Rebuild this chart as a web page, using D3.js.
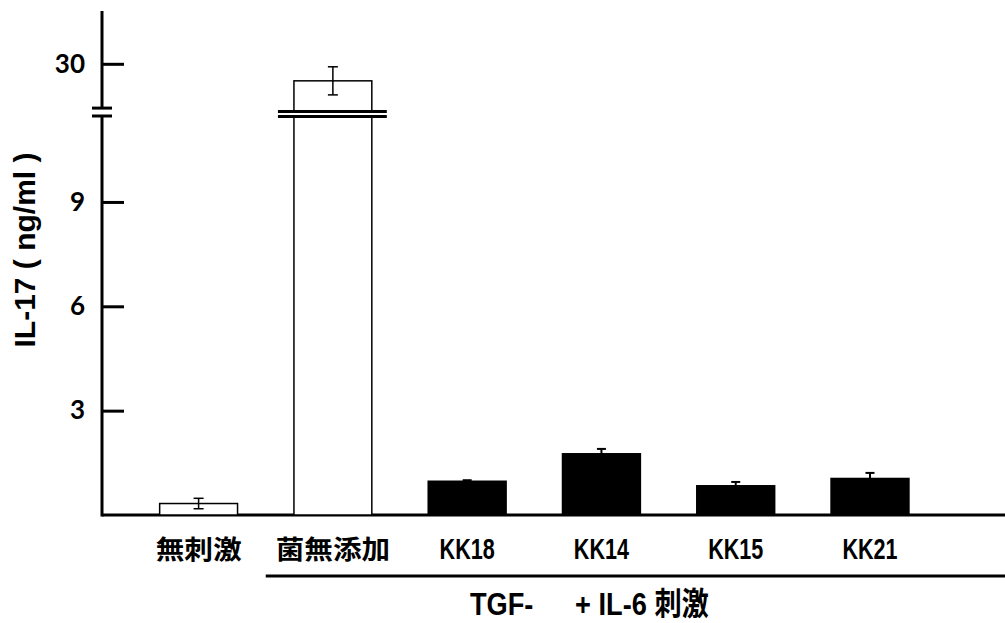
<!DOCTYPE html>
<html>
<head>
<meta charset="utf-8">
<script src="https://cdn.jsdelivr.net/npm/d3@7"></script>
<style>
  html, body { margin: 0; padding: 0; background: #fff; }
  svg { display: block; }
</style>
</head>
<body>
<svg id="chart" width="1005" height="623"></svg>
<script>
// IL-17 production, mean and SD (ng/ml)
const categories = ['無刺激', '菌無添加', 'KK18', 'KK14', 'KK15', 'KK21'];
const means = [0.33, 28.0, 0.97, 1.76, 0.84, 1.05];
const errors = [0.15, 1.65, 0.03, 0.14, 0.11, 0.16];
const withBacteria = [false, false, true, true, true, true];
const lowerTicks = [3, 6, 9];
const upperTicks = [30];
const groupLabel = ['TGF-', '+ IL-6 刺激'];
const groupFrom = '菌無添加';
const yTitle = 'IL-17 ( ng/ml )';

const W = 1005, H = 623;
const axisX = 102, baseY = 515;

const svg = d3.select('#chart');

const x = d3.scalePoint().domain(categories).range([198.6, 870]);
const barW = x.step() * 0.58;

// broken y axis: lower part 0..11.5, upper part 24.4..36.2
const yLow = d3.scaleLinear().domain([0, 11.5]).range([baseY, 115]);
const yUp = d3.scaleLinear().domain([24.4, 36.2]).range([111.5, 11]);
const lowMax = yLow.domain()[1];

const data = categories.map((c, i) => ({
  cat: c, mean: means[i], err: errors[i], black: withBacteria[i]
}));

const latin = 'Liberation Sans, Arial, sans-serif';
const cjk = '"Noto Sans CJK JP", "Noto Sans CJK SC", sans-serif';
const isCJK = s => /[\u3000-\u9fff]/.test(s);

// axis lines
const axisG = svg.append('g').attr('stroke', '#000').attr('stroke-width', 3);
axisG.append('line')
  .attr('x1', axisX).attr('x2', axisX)
  .attr('y1', yUp.range()[1]).attr('y2', yUp(24.8));
axisG.append('line')
  .attr('x1', axisX).attr('x2', axisX)
  .attr('y1', yLow.range()[1] + 1).attr('y2', baseY + 1.5);
[yUp(24.8), yLow.range()[1] + 1].forEach(yy => {
  axisG.append('line')
    .attr('x1', axisX - 10).attr('x2', axisX + 10)
    .attr('y1', yy).attr('y2', yy);
});
// baseline
axisG.append('line')
  .attr('x1', axisX).attr('x2', W)
  .attr('y1', baseY).attr('y2', baseY);

const drawTicks = (scale, ticks) => {
  const g = svg.append('g')
    .attr('transform', `translate(${axisX},0)`)
    .call(d3.axisLeft(scale).tickValues(ticks).tickSizeInner(-22).tickSizeOuter(0).tickPadding(17));
  g.select('.domain').remove();
  g.selectAll('.tick line').attr('stroke', '#000').attr('stroke-width', 3);
  g.selectAll('.tick text')
    .attr('fill', '#000')
    .attr('font-family', 'Lato, sans-serif')
    .attr('font-weight', 'bold')
    .attr('font-size', 26);
};
drawTicks(yLow, lowerTicks);
drawTicks(yUp, upperTicks);

// bars
const bars = svg.append('g');
data.forEach(d => {
  const x0 = x(d.cat) - barW / 2;
  const fill = d.black ? '#000' : '#fff';
  if (d.mean <= lowMax) {
    bars.append('rect')
      .attr('x', x0).attr('width', barW)
      .attr('y', yLow(d.mean)).attr('height', baseY - yLow(d.mean))
      .attr('fill', fill).attr('stroke', '#000').attr('stroke-width', 1.5);
  } else {
    // broken bar
    bars.append('rect')
      .attr('x', x0).attr('width', barW)
      .attr('y', yUp(d.mean)).attr('height', yUp.range()[0] - yUp(d.mean))
      .attr('fill', fill).attr('stroke', '#000').attr('stroke-width', 1.5);
    bars.append('rect')
      .attr('x', x0).attr('width', barW)
      .attr('y', yLow.range()[1] + 1.5).attr('height', baseY - yLow.range()[1] - 1.5)
      .attr('fill', fill).attr('stroke', '#000').attr('stroke-width', 1.5);
    [yUp.range()[0], yLow.range()[1] + 1.5].forEach(yy => {
      bars.append('line')
        .attr('x1', x0 - 16).attr('x2', x0 + barW + 15)
        .attr('y1', yy).attr('y2', yy)
        .attr('stroke', '#000').attr('stroke-width', 3);
    });
  }
});

// error bars
const errG = svg.append('g').attr('stroke', '#000');
data.forEach(d => {
  const y = d.mean <= lowMax ? yLow : yUp;
  const cx = x(d.cat);
  const hi = y(d.mean + d.err);
  const lo = d.black ? y(d.mean) : y(d.mean - d.err);
  const cap = d.black ? 4.5 : 5;
  const sw = d.black ? 2 : 1.5;
  errG.append('line').attr('x1', cx).attr('x2', cx).attr('y1', hi).attr('y2', lo).attr('stroke-width', sw);
  errG.append('line').attr('x1', cx - cap).attr('x2', cx + cap).attr('y1', hi).attr('y2', hi).attr('stroke-width', sw);
  if (!d.black) {
    errG.append('line').attr('x1', cx - cap).attr('x2', cx + cap).attr('y1', lo).attr('y2', lo).attr('stroke-width', sw);
  }
});

// category labels
svg.append('g').selectAll('text')
  .data(categories)
  .join('text')
  .attr('transform', d => `translate(${x(d)},559) scale(${isCJK(d) ? 1.1 : 0.72},1)`)
  .attr('text-anchor', 'middle')
  .attr('font-family', d => isCJK(d) ? cjk : latin)
  .attr('font-weight', 'bold')
  .attr('font-size', d => isCJK(d) ? 26 : 30)
  .attr('fill', '#000')
  .text(d => d);

// group line and label
svg.append('line')
  .attr('x1', x(groupFrom) - x.step() / 2).attr('x2', W)
  .attr('y1', 576).attr('y2', 576)
  .attr('stroke', '#000').attr('stroke-width', 3);

const gl = svg.append('text')
  .attr('transform', 'translate(470,615) scale(0.85,1)')
  .attr('font-family', latin + ', "Noto Sans CJK JP"')
  .attr('font-weight', 'bold')
  .attr('font-size', 32)
  .attr('fill', '#000');
gl.append('tspan').text(groupLabel[0]);
gl.append('tspan').attr('dx', 49).text(groupLabel[1]);

// y title
svg.append('text')
  .attr('transform', 'translate(35,250) rotate(-90)')
  .attr('text-anchor', 'middle')
  .attr('font-family', latin)
  .attr('font-weight', 'bold')
  .attr('font-size', 30)
  .attr('fill', '#000')
  .text(yTitle);
</script>
</body>
</html>
